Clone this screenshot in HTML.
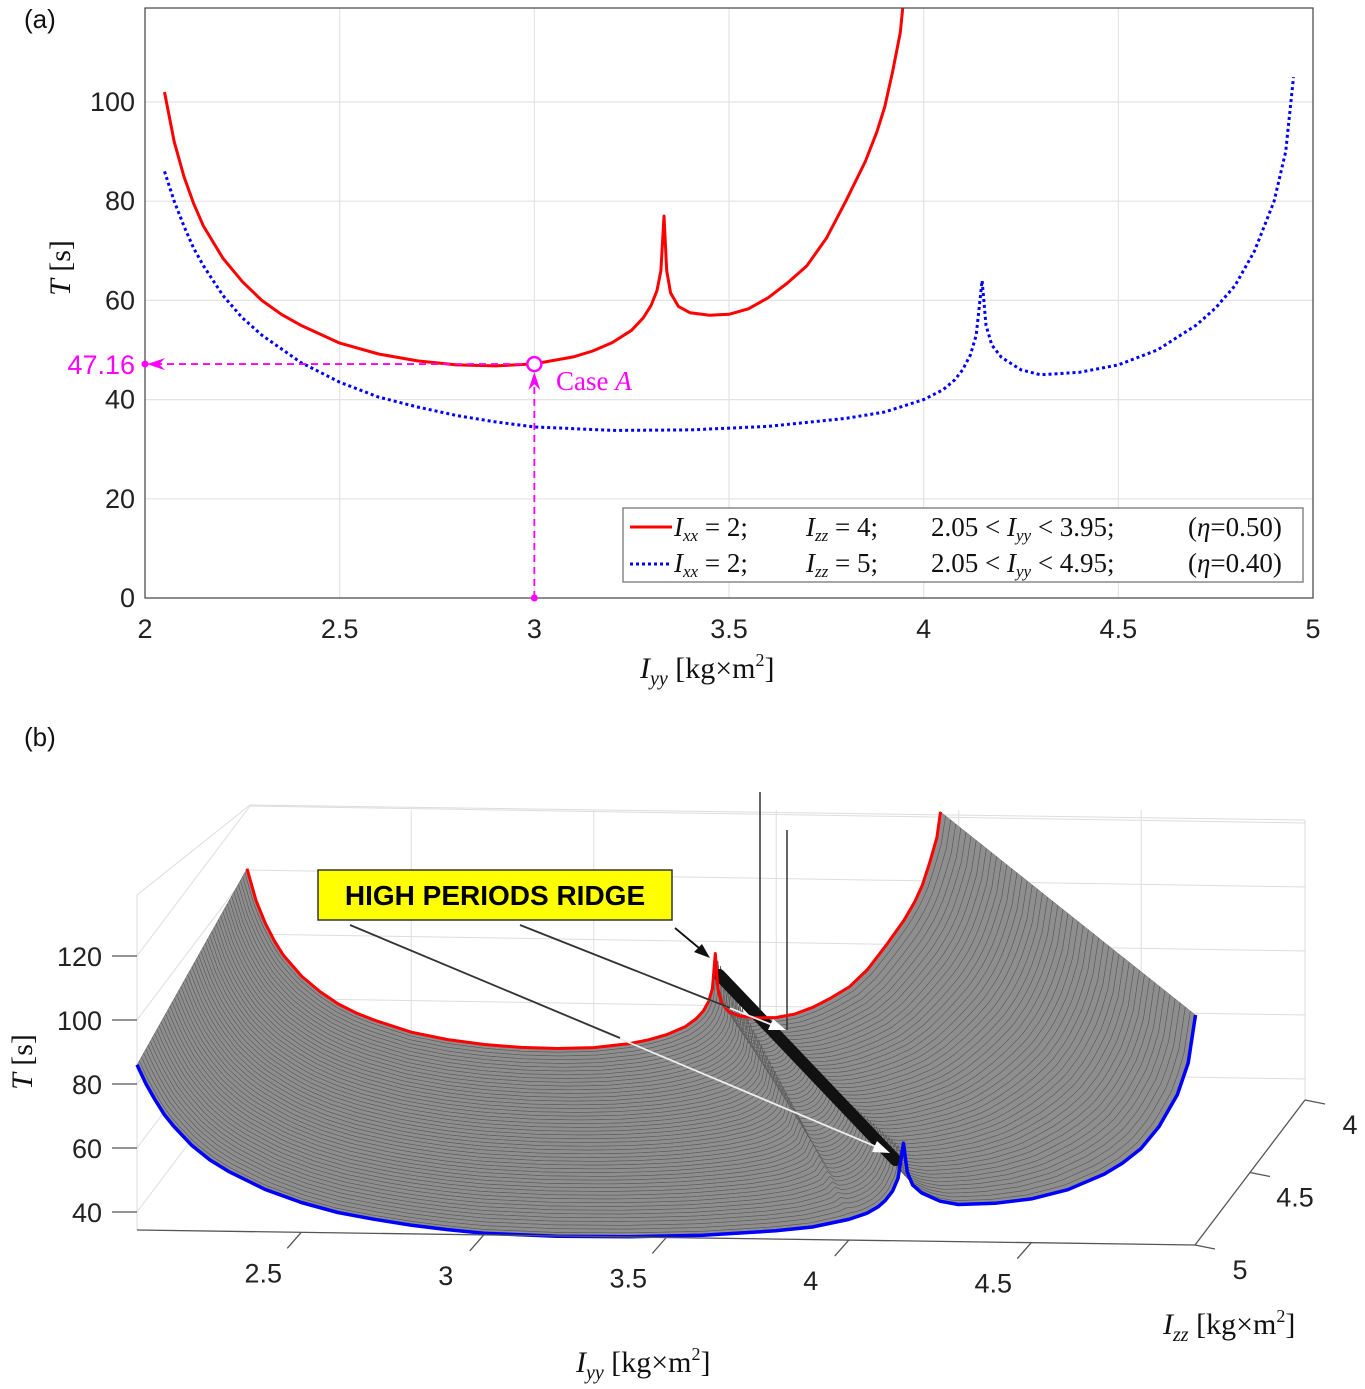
<!DOCTYPE html>
<html><head><meta charset="utf-8"><style>
body{margin:0;background:#fff;}
svg{display:block;font-family:"Liberation Sans",sans-serif;}
.serif{font-family:"Liberation Serif",serif;}
</style></head><body>
<svg id="fig" width="1365" height="1389" viewBox="0 0 1365 1389" xmlns="http://www.w3.org/2000/svg">
<g id="pa"></g>
<g id="pb"></g>
</svg>
<script>
// ---- data ----
const redIyy=[2.05,2.075,2.1,2.125,2.15,2.2,2.25,2.3,2.35,2.4,2.5,2.6,2.7,2.8,2.9,3.0,3.1,3.15,3.2,3.25,3.28,3.3,3.315,3.325,3.333,3.34,3.35,3.37,3.4,3.45,3.5,3.55,3.6,3.65,3.7,3.75,3.8,3.85,3.88,3.9,3.92,3.94,3.95];
const redT=[102,92,85,79.5,75,68.5,63.8,60,57.2,55,51.4,49.2,47.8,47,46.8,47.2,48.6,49.8,51.5,54,56.5,59,62,66,77,66,61.5,58.8,57.5,57,57.2,58.3,60.5,63.5,67,72.5,80,88,94,99,106,114,122];
const blueIyy=[2.05,2.075,2.1,2.125,2.15,2.2,2.25,2.3,2.4,2.5,2.6,2.7,2.8,2.9,3.0,3.2,3.4,3.6,3.8,3.9,4.0,4.05,4.08,4.1,4.12,4.135,4.15,4.16,4.175,4.2,4.25,4.3,4.4,4.5,4.6,4.7,4.75,4.8,4.85,4.9,4.93,4.95];
const blueT=[86,80,75,70.5,67,61,56.5,53,47.5,43.5,40.5,38.5,36.8,35.5,34.5,33.8,33.9,34.6,36.2,37.5,40,42,44,46,49,53,64,55,51,48.5,46,45,45.5,47,50,55,58.5,63,70,80,90,105];
const xTicks=[2,2.5,3,3.5,4,4.5,5];
const yTicks=[0,20,40,60,80,100];
const caseIyy=3.0, caseT=47.16;
const zTicks3=[40,60,80,100,120];
const iyyTicks3=[2.5,3,3.5,4,4.5];
const izzTicks3=[4,4.5,5];

const NS="http://www.w3.org/2000/svg";
function mk(parent,tag,attrs,name,text){
  const e=document.createElementNS(NS,tag);
  for(const k in attrs)e.setAttribute(k,attrs[k]);
  
  
  if(text!==undefined)e.textContent=text;
  parent.appendChild(e);return e;
}
// ---- panel a ----
const pa=document.getElementById('pa');
const X0=145,X1=1313,Y0=598,Y100=102;
const sx=v=>X0+(v-2)*(X1-X0)/3;
const sy=v=>Y0-(v)*(Y0-Y100)/100;
mk(pa,'rect',{x:X0,y:8,width:X1-X0,height:Y0-8,fill:'#fff',stroke:'none'},'plot-area');
xTicks.forEach(t=>{mk(pa,'line',{x1:sx(t),x2:sx(t),y1:8,y2:Y0,stroke:'#e3e3e3','stroke-width':1.2},'x-gridline');
  mk(pa,'text',{x:sx(t),y:638,'font-size':27,'text-anchor':'middle',fill:'#222'},'x-tick-label',String(t));});
yTicks.forEach(t=>{mk(pa,'line',{x1:X0,x2:X1,y1:sy(t),y2:sy(t),stroke:'#e3e3e3','stroke-width':1.2},'y-gridline');
  mk(pa,'text',{x:135,y:sy(t)+9,'font-size':27,'text-anchor':'end',fill:'#222'},'y-tick-label',String(t));});
const cp=mk(pa,'clipPath',{id:'clipA'},'clip');
mk(cp,'rect',{x:X0,y:8,width:X1-X0,height:Y0-8},'clip-rect');
function pathA(xs,ys){return xs.map((v,i)=>(i?'L':'M')+sx(v).toFixed(1)+','+sy(ys[i]).toFixed(1)).join('');}
mk(pa,'path',{d:pathA(redIyy,redT),fill:'none',stroke:'#f00','stroke-width':3,'stroke-linejoin':'round','clip-path':'url(#clipA)'},'red-series-izz4');
mk(pa,'path',{d:pathA(blueIyy,blueT),fill:'none',stroke:'#00f','stroke-width':3,'stroke-dasharray':'3,3','clip-path':'url(#clipA)'},'blue-series-izz5');
mk(pa,'rect',{x:X0,y:8,width:X1-X0,height:Y0-8,fill:'none',stroke:'#444','stroke-width':1.2},'axes-box');
// case A annotations
const cx=sx(caseIyy),cy=sy(caseT);
mk(pa,'line',{x1:X0+10,x2:cx-7,y1:cy,y2:cy,stroke:'#f0f','stroke-width':1.8,'stroke-dasharray':'7,5'},'case-a-hline');
mk(pa,'line',{x1:cx,x2:cx,y1:Y0,y2:cy+14,stroke:'#f0f','stroke-width':1.8,'stroke-dasharray':'7,5'},'case-a-vline');
mk(pa,'path',{d:`M${X0+2},${cy} L${X0+20},${cy-6} L${X0+14},${cy} L${X0+20},${cy+6}Z`,fill:'#f0f'},'case-a-arrow-left');
mk(pa,'path',{d:`M${cx},${cy+8} L${cx-6},${cy+26} L${cx},${cy+20} L${cx+6},${cy+26}Z`,fill:'#f0f'},'case-a-arrow-up');
mk(pa,'circle',{cx:cx,cy:cy,r:7,fill:'#fff',stroke:'#f0f','stroke-width':2.5},'case-a-marker');
mk(pa,'circle',{cx:X0,cy:cy,r:3.5,fill:'#f0f'},'case-a-dot-y');
mk(pa,'circle',{cx:cx,cy:Y0,r:3.5,fill:'#f0f'},'case-a-dot-x');
mk(pa,'text',{x:135,y:cy+10,'font-size':27,'text-anchor':'end',fill:'#f0f'},'case-a-value','47.16');
const ca=mk(pa,'text',{x:556,y:cy+26,'font-size':27,fill:'#f0f',class:'serif'},'case-a-label','Case ');
mk(ca,'tspan',{'font-style':'italic'},'case-a-letter','A');
// legend
mk(pa,'rect',{x:623,y:508,width:680,height:74,fill:'#fff',stroke:'#888','stroke-width':1.5},'legend-box');
mk(pa,'line',{x1:630,x2:672,y1:527,y2:527,stroke:'#f00','stroke-width':3},'legend-red-line');
mk(pa,'line',{x1:630,x2:672,y1:564,y2:564,stroke:'#00f','stroke-width':3,'stroke-dasharray':'3,3'},'legend-blue-line');
function legText(y,zz,yy,eta,nm){
  const g=mk(pa,'g',{class:'serif','font-size':27,fill:'#111'},nm);
  const a=mk(g,'text',{x:674,y:y},nm+'-ixx');mk(a,'tspan',{'font-style':'italic'},'i','I');mk(a,'tspan',{'font-style':'italic','font-size':17,dy:5},'s','xx');mk(a,'tspan',{dy:-5},'t',' = 2;');
  const b=mk(g,'text',{x:806,y:y},nm+'-izz');mk(b,'tspan',{'font-style':'italic'},'i','I');mk(b,'tspan',{'font-style':'italic','font-size':17,dy:5},'s','zz');mk(b,'tspan',{dy:-5},'t',' = '+zz+';');
  const c=mk(g,'text',{x:931,y:y},nm+'-iyy');c.appendChild(document.createTextNode('2.05 < '));mk(c,'tspan',{'font-style':'italic'},'i','I');mk(c,'tspan',{'font-style':'italic','font-size':17,dy:5},'s','yy');mk(c,'tspan',{dy:-5},'t',' < '+yy+';');
  const d=mk(g,'text',{x:1188,y:y},nm+'-eta');d.appendChild(document.createTextNode('('));mk(d,'tspan',{'font-style':'italic'},'e','η');d.appendChild(document.createTextNode('='+eta+')'));
}
legText(536,4,'3.95','0.50','legend-entry-red');
legText(572,5,'4.95','0.40','legend-entry-blue');
// titles
const xt=mk(pa,'text',{x:640,y:678,'font-size':30,class:'serif',fill:'#111'},'x-axis-title');
mk(xt,'tspan',{'font-style':'italic'},'i','I');mk(xt,'tspan',{'font-style':'italic','font-size':20,dy:7},'s','yy');mk(xt,'tspan',{dy:-7},'t',' [kg×m');mk(xt,'tspan',{'font-size':18,dy:-12},'sup','2');mk(xt,'tspan',{dy:12},'t2',']');
const yt=mk(pa,'text',{x:0,y:0,'font-size':30,class:'serif',fill:'#111',transform:'translate(70,268) rotate(-90)','text-anchor':'middle'},'y-axis-title');
mk(yt,'tspan',{'font-style':'italic'},'i','T');yt.appendChild(document.createTextNode(' [s]'));
mk(pa,'text',{x:24,y:28,'font-size':26,fill:'#111'},'panel-a-label','(a)');

// ---- panel b ----
const pb=document.getElementById('pb');
const P=(iyy,izz,T)=>[137+(iyy-2.05)*365+(5-izz)*110, 1340+(iyy-2.05)*3.8-(5-izz)*145-T*3.2];
mk(pb,'text',{x:24,y:746,'font-size':26,fill:'#111'},'panel-b-label','(b)');
const gl=(a,b,n)=>mk(pb,'line',{x1:a[0],y1:a[1],x2:b[0],y2:b[1],stroke:'#ddd','stroke-width':1},n);
gl([137,1230],[137,895],'grid-left-edge');gl([137,895],[250,805],'grid-top-left');gl([250,805],[1305,820],'grid-top-back');gl([1305,820],[1305,1100],'grid-right-back');
zTicks3.forEach(t=>{const a=P(2.05,5,t),b=P(2.05,4,t);gl([137,a[1]],[250,b[1]-5],'grid-z-left');gl([250,b[1]-5],[1305,b[1]+12],'grid-z-back');});
[2.5,3,3.5,4,4.5].forEach(v=>{const a=P(v,4,0);gl([a[0],810],[a[0],1110],'grid-iyy-back');});
function interp(xs,ys,x){for(let i=1;i<xs.length;i++){if(x<=xs[i]){const f=(x-xs[i-1])/(xs[i]-xs[i-1]);return ys[i-1]+f*(ys[i]-ys[i-1]);}}return ys[ys.length-1];}
const NU=160;
function curve(s){const izz=4+s,pts=[];for(let k=0;k<=NU;k++){const u=k/NU;
  const r=interp(redIyy,redT,2.05+u*1.9),b=interp(blueIyy,blueT,2.05+u*2.9);
  const iyy=2.05+u*(izz-2.1);pts.push(P(iyy,izz,r+(b-r)*s));}return pts;}
const NS_=50;const curves=[];for(let j=0;j<=NS_;j++)curves.push(curve(j/NS_));
const surf=mk(pb,'g',{},'surface');
for(let j=0;j<NS_;j++){const a=curves[j],b=curves[j+1];
  const d='M'+a.map(p=>p[0].toFixed(1)+','+p[1].toFixed(1)).join('L')+'L'+b.slice().reverse().map(p=>p[0].toFixed(1)+','+p[1].toFixed(1)).join('L')+'Z';
  mk(surf,'path',{d:d,fill:'#8e8e8e',stroke:'#707070','stroke-width':0.5},'surface-strip');}
for(let j=0;j<=NS_;j++){mk(surf,'polyline',{points:curves[j].map(p=>p.join(',')).join(' '),fill:'none',stroke:'#5a5a5a','stroke-width':0.6},'surface-line');}
// ridge: from red spike to blue spike
const rs=P(3.333,4,0), bs=P(4.15,5,0);
mk(pb,'line',{x1:rs[0]+4,y1:975,x2:bs[0]-8,y2:1160,stroke:'#111','stroke-width':12,'stroke-linecap':'round'},'high-periods-ridge');
mk(pb,'line',{x1:760,y1:1010,x2:760,y2:792,stroke:'#333','stroke-width':1.5},'ridge-spike-1');
mk(pb,'line',{x1:787,y1:1030,x2:787,y2:830,stroke:'#333','stroke-width':1.5},'ridge-spike-2');
const poly3=(xs,ys,izz)=>xs.map((v,i)=>P(v,izz,ys[i]).map(n=>n.toFixed(1)).join(',')).join(' ');
mk(pb,'polyline',{points:poly3(redIyy,redT,4),fill:'none',stroke:'#f00','stroke-width':3,'stroke-linejoin':'round'},'red-edge-izz4');
mk(pb,'polyline',{points:poly3(blueIyy,blueT,5),fill:'none',stroke:'#00f','stroke-width':3.5,'stroke-linejoin':'round'},'blue-edge-izz5');
mk(pb,'line',{x1:137,y1:1230,x2:1195,y2:1245,stroke:'#555','stroke-width':1.3},'iyy-axis-line');
mk(pb,'line',{x1:1195,y1:1245,x2:1305,y2:1100,stroke:'#555','stroke-width':1.3},'izz-axis-line');
zTicks3.forEach(t=>{const y=P(2.05,5,t)[1];mk(pb,'line',{x1:112,x2:137,y1:y,y2:y,stroke:'#555','stroke-width':1.3},'t-tick');
  mk(pb,'text',{x:102,y:y+10,'font-size':27,'text-anchor':'end',fill:'#222'},'t-tick-label',String(t));});
iyyTicks3.forEach((t,i)=>{const p=P(t,5,0);const x=p[0];const y=1230+(x-137)*15/1058;
  mk(pb,'line',{x1:x,y1:y,x2:x-14,y2:y+16,stroke:'#555','stroke-width':1.3},'iyy-tick');
  mk(pb,'text',{x:x-38,y:y+50,'font-size':27,'text-anchor':'middle',fill:'#222'},'iyy-tick-label',String(t));});
izzTicks3.forEach(t=>{const f=(5-t);const x=1195+f*110,y=1245-f*145;
  mk(pb,'line',{x1:x,y1:y,x2:x+20,y2:y+4,stroke:'#555','stroke-width':1.3},'izz-tick');
  mk(pb,'text',{x:x+45,y:y+34,'font-size':27,'text-anchor':'middle',fill:'#222'},'izz-tick-label',String(t));});
const bx=mk(pb,'text',{x:576,y:1372,'font-size':30,class:'serif',fill:'#111'},'iyy-axis-title-3d');
mk(bx,'tspan',{'font-style':'italic'},'i','I');mk(bx,'tspan',{'font-style':'italic','font-size':20,dy:7},'s','yy');mk(bx,'tspan',{dy:-7},'t',' [kg×m');mk(bx,'tspan',{'font-size':18,dy:-12},'sup','2');mk(bx,'tspan',{dy:12},'t2',']');
const bz=mk(pb,'text',{x:1163,y:1334,'font-size':30,class:'serif',fill:'#111'},'izz-axis-title-3d');
mk(bz,'tspan',{'font-style':'italic'},'i','I');mk(bz,'tspan',{'font-style':'italic','font-size':20,dy:7},'s','zz');mk(bz,'tspan',{dy:-7},'t',' [kg×m');mk(bz,'tspan',{'font-size':18,dy:-12},'sup','2');mk(bz,'tspan',{dy:12},'t2',']');
const bt=mk(pb,'text',{x:0,y:0,'font-size':30,class:'serif',fill:'#111',transform:'translate(32,1062) rotate(-90)','text-anchor':'middle'},'t-axis-title-3d');
mk(bt,'tspan',{'font-style':'italic'},'i','T');bt.appendChild(document.createTextNode(' [s]'));
mk(pb,'line',{x1:350,y1:925,x2:884,y2:1150,stroke:'#eee','stroke-width':1.8},'arrow-1');
mk(pb,'line',{x1:350,y1:925,x2:620,y2:1038,stroke:'#333','stroke-width':1.8},'arrow-1-dark');
mk(pb,'path',{d:'M890,1153 L872,1152 L877,1141Z',fill:'#fff'},'arrow-1-head');
mk(pb,'line',{x1:520,y1:925,x2:780,y2:1028,stroke:'#eee','stroke-width':1.8},'arrow-2');
mk(pb,'line',{x1:520,y1:925,x2:730,y2:1008,stroke:'#333','stroke-width':1.8},'arrow-2-dark');
mk(pb,'path',{d:'M786,1030 L768,1030 L773,1019Z',fill:'#fff'},'arrow-2-head');
mk(pb,'line',{x1:675,y1:928,x2:705,y2:953,stroke:'#111','stroke-width':1.8},'arrow-3');
mk(pb,'path',{d:'M710,958 L694,952 L702,944Z',fill:'#111'},'arrow-3-head');
mk(pb,'rect',{x:318,y:870,width:354,height:50,fill:'#ffff00',stroke:'#333','stroke-width':1.5},'ridge-label-box');
mk(pb,'text',{x:495,y:905,'font-size':28,'font-weight':'bold','text-anchor':'middle',fill:'#000'},'ridge-label','HIGH PERIODS RIDGE');
</script>
</body></html>
